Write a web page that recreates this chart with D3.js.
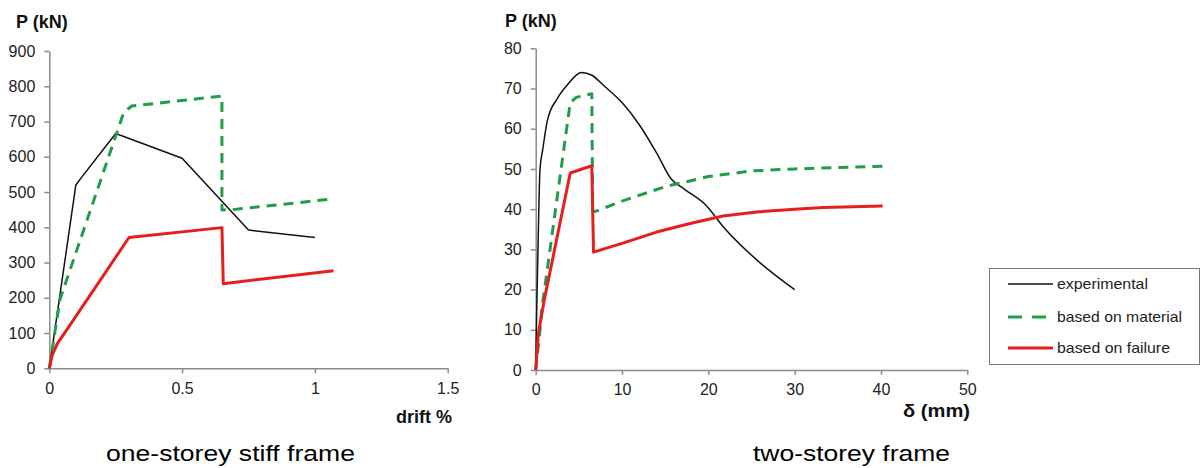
<!DOCTYPE html>
<html>
<head>
	<title>P - drift curves</title>
	<script src="https://cdnjs.cloudflare.com/ajax/libs/d3/7.8.5/d3.min.js"></script>
	<style>
		body { margin: 0; background: #fff; }
		svg text { font-family: "Liberation Sans", Arial, sans-serif; }
	</style>
</head>
<body>
	<div id="chart"></div>

	<script type="text/javascript">
		// one-storey stiff frame (drift %, kN)
		let expX1 = [0, 0.1, 0.12, 0.25, 0.5, 0.75, 1.0];
		let expY1 = [0, 520, 540, 666, 596, 392, 371];
		let matX1 = [0, 0.04, 0.28, 0.31, 0.65, 0.65, 0.69, 1.05];
		let matY1 = [0, 195, 725, 744, 772, 449, 450, 479];
		let failX1 = [0, 0.01, 0.03, 0.065, 0.3, 0.65, 0.655, 1.07];
		let failY1 = [0, 35, 70, 108, 371, 399, 240, 277];

		// two-storey frame (mm, kN)
		let expX2 = [0, 0.1, 0.3, 0.5, 0.8, 1.35, 2.5, 3.7, 5.3, 6.5, 8, 10, 12, 14, 15.7, 17.2, 19.8, 21.7, 25.6, 30];
		let expY2 = [0, 13, 34, 50, 54.6, 62, 67.5, 71, 74, 73.3, 70.5, 66.5, 61, 54, 47.5, 45, 40.8, 35.7, 27.4, 20];
		let matX2 = [0, 0.5, 0.7, 4, 4.7, 6.5, 6.6, 7, 10, 15, 20, 25, 30, 40.3];
		let matY2 = [0, 10, 15, 66.5, 67.8, 68.7, 39.4, 39.5, 42, 45.6, 48.1, 49.5, 50, 50.7];
		let failX2 = [0, 0.3, 1, 4, 6.5, 6.7, 10, 14, 18, 21.7, 25.6, 30, 33.3, 40.2];
		let failY2 = [0, 9, 17.5, 49, 50.8, 29.3, 31.5, 34.3, 36.5, 38.3, 39.3, 40, 40.4, 40.8];

		// ticks
		let xTicks1 = [0, 0.5, 1, 1.5];
		let yTicks1 = [0, 100, 200, 300, 400, 500, 600, 700, 800, 900];
		let xTicks2 = [0, 10, 20, 30, 40, 50];
		let yTicks2 = [0, 10, 20, 30, 40, 50, 60, 70, 80];

		let legendNames = ["experimental", "based on material", "based on failure"];

		let green = "#1f9d4c", red = "#e61e1e";

		let svg = d3.select("#chart").append("svg")
			.attr("width", 1201)
			.attr("height", 468);

		function pts(xs, ys){
			return xs.map(function(v, k){ return [v, ys[k]]; });
		}

		function drawAxes(x, y, xt, yt){
			let gx = svg.append("g")
				.attr("transform", "translate(0," + y.range()[0] + ")")
				.call(d3.axisBottom(x).tickValues(xt).tickSize(5).tickSizeOuter(0).tickPadding(9).tickFormat(function(d){ return d; }));
			let gy = svg.append("g")
				.attr("transform", "translate(" + x.range()[0] + ",0)")
				.call(d3.axisLeft(y).tickValues(yt).tickSize(5).tickSizeOuter(0).tickPadding(9));
			[gx, gy].forEach(function(g){
				g.select(".domain").attr("stroke", "#8c8c8c").attr("stroke-width", 1.5);
				g.selectAll(".tick line").attr("stroke", "#8c8c8c").attr("stroke-width", 1.5);
				g.selectAll(".tick text").attr("fill", "#222").style("font-size", "16px")
					.style("font-family", "'Liberation Sans', Arial, sans-serif");
			});
		}

		function drawLine(x, y, data, color, width, dash, curve){
			let line = d3.line()
				.x(function(d){ return x(d[0]); })
				.y(function(d){ return y(d[1]); })
				.curve(curve || d3.curveLinear);
			svg.append("path")
				.datum(data)
				.attr("d", line)
				.attr("fill", "none")
				.attr("stroke", color)
				.attr("stroke-width", width)
				.attr("stroke-dasharray", dash)
				.attr("stroke-linejoin", "round");
		}

		// left chart
		let x1 = d3.scaleLinear().domain([0, 1.5]).range([49.3, 447.7]);
		let y1 = d3.scaleLinear().domain([0, 900]).range([368.3, 51]);
		drawAxes(x1, y1, xTicks1, yTicks1);
		drawLine(x1, y1, pts(expX1, expY1), "#111", 1.5, null);
		drawLine(x1, y1, pts(matX1, matY1), green, 3, "10,7");
		drawLine(x1, y1, pts(failX1, failY1), red, 3, null);

		// right chart
		let x2 = d3.scaleLinear().domain([0, 50]).range([535.7, 967.3]);
		let y2 = d3.scaleLinear().domain([0, 80]).range([370, 48.3]);
		drawAxes(x2, y2, xTicks2, yTicks2);
		drawLine(x2, y2, pts(expX2, expY2), "#111", 1.5, null, d3.curveMonotoneX);
		drawLine(x2, y2, pts(matX2, matY2), green, 3, "10,7");
		drawLine(x2, y2, pts(failX2, failY2), red, 3, null);

		// axis titles
		svg.append("text").attr("x", 16).attr("y", 28).text("P (kN)")
			.style("font-size", "18px").style("font-weight", "bold").attr("fill", "#111");
		svg.append("text").attr("x", 505).attr("y", 27).text("P (kN)")
			.style("font-size", "18px").style("font-weight", "bold").attr("fill", "#111");
		svg.append("text").attr("x", 452).attr("y", 423).attr("text-anchor", "end").text("drift %")
			.style("font-size", "18px").style("font-weight", "bold").attr("fill", "#111");
		svg.append("text").attr("x", 970).attr("y", 417).attr("text-anchor", "end").text("δ (mm)")
			.style("font-size", "18px").style("font-weight", "bold").attr("fill", "#111")
			.attr("textLength", 67).attr("lengthAdjust", "spacingAndGlyphs");

		// captions
		svg.append("text").attr("x", 106).attr("y", 461).text("one-storey stiff frame")
			.style("font-size", "22px").attr("fill", "#000")
			.attr("textLength", 249).attr("lengthAdjust", "spacingAndGlyphs");
		svg.append("text").attr("x", 753).attr("y", 461).text("two-storey frame")
			.style("font-size", "22px").attr("fill", "#000")
			.attr("textLength", 197).attr("lengthAdjust", "spacingAndGlyphs");

		// legend
		svg.append("rect")
			.attr("x", 989.5).attr("y", 268.5)
			.attr("width", 210).attr("height", 96)
			.attr("fill", "#fff").attr("stroke", "#777").attr("stroke-width", 1);
		let rowY = [284, 317, 348];
		let lens = [91, 125, 113];
		let styles = [["#111", 1.5, null], [green, 3, "14,10"], [red, 3, null]];
		legendNames.forEach(function(name, k){
			svg.append("line")
				.attr("x1", 1008).attr("x2", 1053)
				.attr("y1", rowY[k]).attr("y2", rowY[k])
				.attr("stroke", styles[k][0])
				.attr("stroke-width", styles[k][1])
				.attr("stroke-dasharray", styles[k][2]);
			svg.append("text")
				.attr("x", 1057).attr("y", rowY[k] + 5)
				.text(name)
				.style("font-size", "15px").attr("fill", "#222")
				.attr("textLength", lens[k]).attr("lengthAdjust", "spacingAndGlyphs");
		});
	</script>
</body>
</html>
